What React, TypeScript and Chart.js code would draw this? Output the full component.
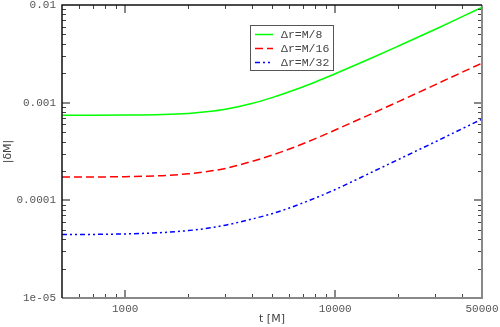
import React, { useEffect, useRef } from "react";
import { Chart, registerables } from "chart.js";

Chart.register(...registerables);

const times = [500, 700, 1000, 1500, 2000, 2500, 3000, 4000, 5000, 6000, 8000, 10000, 15000, 20000, 30000, 40000, 50000];
const dM8 = [7.43e-4, 7.43e-4, 7.46e-4, 7.56e-4, 7.76e-4, 8.1e-4, 8.55e-4, 9.8e-4, 1.126e-3, 1.284e-3, 1.62e-3, 1.975e-3, 2.88e-3, 3.8e-3, 5.65e-3, 7.55e-3, 9.47e-3];
const dM16 = [1.736e-4, 1.736e-4, 1.748e-4, 1.79e-4, 1.87e-4, 1.98e-4, 2.12e-4, 2.5e-4, 2.9e-4, 3.33e-4, 4.26e-4, 5.25e-4, 7.75e-4, 1.025e-3, 1.53e-3, 2.04e-3, 2.54e-3];
const dM32 = [4.457e-5, 4.477e-5, 4.53e-5, 4.68e-5, 4.9e-5, 5.2e-5, 5.57e-5, 6.42e-5, 7.3e-5, 8.3e-5, 1.052e-4, 1.29e-4, 1.95e-4, 2.62e-4, 3.98e-4, 5.38e-4, 6.78e-4];

const seriesLabels = ["\u0394r=M/8", "\u0394r=M/16", "\u0394r=M/32"];
const seriesColors = ["#00ff00", "#ff0000", "#0000ff"];
const seriesDashes: number[][] = [[], [8, 4], [5, 3, 2, 3, 2, 3]];

const xTickValues = [1000, 10000, 50000];
const xTickLabels = ["1000", "10000", "50000"];
const yTickValues = [1e-5, 1e-4, 1e-3, 1e-2];
const yTickLabels = ["1e-05", "0.0001", "0.001", "0.01"];
const xMajorMarks = [1000, 10000];
const xMinorMarks = [600, 700, 800, 900, 2000, 3000, 4000, 5000, 6000, 7000, 8000, 9000, 20000, 30000, 40000];
const yMajorMarks = [1e-4, 1e-3];
const yMinorDecades = [1e-5, 1e-4, 1e-3];
const yMinorMults = [2, 3, 4, 5, 6, 7, 8, 9];

const xMin = 500;
const xMax = 50000;
const yMin = 1e-5;
const yMax = 1e-2;
const xTitle = "t [M]";
const yTitle = "|\u03b4M|";

const framePlugin = {
  id: "framePlugin",
  afterDraw(chart: any) {
    const { ctx, chartArea: a, scales } = chart;
    const xs = scales.x;
    const ys = scales.y;
    ctx.save();

    // minor ticks
    ctx.strokeStyle = "#444";
    ctx.lineWidth = 1;
    ctx.beginPath();
    xMinorMarks.forEach((v) => {
      const px = Math.round(xs.getPixelForValue(v)) + 0.5;
      ctx.moveTo(px, a.bottom);
      ctx.lineTo(px, a.bottom - 4);
      ctx.moveTo(px, a.top);
      ctx.lineTo(px, a.top + 4);
    });
    yMinorDecades.forEach((d) => {
      yMinorMults.forEach((m) => {
        const py = Math.round(ys.getPixelForValue(d * m)) + 0.5;
        ctx.moveTo(a.left, py);
        ctx.lineTo(a.left + 4, py);
        ctx.moveTo(a.right, py);
        ctx.lineTo(a.right - 4, py);
      });
    });
    ctx.stroke();

    // major ticks
    ctx.strokeStyle = "#888";
    ctx.lineWidth = 2;
    ctx.beginPath();
    xMajorMarks.forEach((v) => {
      const px = Math.round(xs.getPixelForValue(v));
      ctx.moveTo(px, a.bottom);
      ctx.lineTo(px, a.bottom - 8);
      ctx.moveTo(px, a.top);
      ctx.lineTo(px, a.top + 8);
    });
    yMajorMarks.forEach((v) => {
      const py = Math.round(ys.getPixelForValue(v));
      ctx.moveTo(a.left, py);
      ctx.lineTo(a.left + 8, py);
      ctx.moveTo(a.right, py);
      ctx.lineTo(a.right - 8, py);
    });
    ctx.stroke();

    // frame
    ctx.lineWidth = 2;
    ctx.strokeStyle = "#888";
    ctx.beginPath();
    ctx.moveTo(a.left, a.bottom);
    ctx.lineTo(a.right, a.bottom);
    ctx.lineTo(a.right, a.top);
    ctx.stroke();
    ctx.lineWidth = 1.5;
    ctx.strokeStyle = "#111";
    ctx.beginPath();
    ctx.moveTo(a.left, a.bottom);
    ctx.lineTo(a.left, a.top);
    ctx.lineTo(a.right, a.top);
    ctx.stroke();

    // axis titles
    ctx.fillStyle = "#444";
    ctx.font = "11px 'DejaVu Sans', sans-serif";
    ctx.textAlign = "center";
    ctx.textBaseline = "middle";
    ctx.fillText(xTitle, (a.left + a.right) / 2, 319);
    ctx.save();
    ctx.translate(8, (a.top + a.bottom) / 2);
    ctx.rotate(-Math.PI / 2);
    ctx.fillText(yTitle, 0, 0);
    ctx.restore();

    // legend
    const bx = 250, by = 25, bw = 83, bh = 45;
    ctx.fillStyle = "#ffffff";
    ctx.fillRect(bx, by, bw, bh);
    ctx.strokeStyle = "#555";
    ctx.lineWidth = 1;
    ctx.strokeRect(bx + 0.5, by + 0.5, bw, bh);
    chart.data.datasets.forEach((ds: any, i: number) => {
      const ry = by + 9.5 + i * 14;
      ctx.strokeStyle = ds.borderColor;
      ctx.lineWidth = ds.borderWidth;
      ctx.setLineDash(ds.borderDash || []);
      ctx.beginPath();
      ctx.moveTo(bx + 5, ry);
      ctx.lineTo(bx + 23, ry);
      ctx.stroke();
      ctx.setLineDash([]);
      ctx.fillStyle = "#444";
      ctx.font = "11.5px 'Liberation Mono', monospace";
      ctx.textAlign = "left";
      ctx.textBaseline = "middle";
      ctx.fillText(ds.label, bx + 31, ry);
    });

    ctx.restore();
  },
};

const zeroPad = (scale: any) => {
  scale.paddingTop = 0;
  scale.paddingBottom = 0;
  scale.paddingLeft = 0;
  scale.paddingRight = 0;
};

export default function App() {
  const canvasRef = useRef<HTMLCanvasElement | null>(null);

  useEffect(() => {
    document.body.style.margin = "0";
    const canvas = canvasRef.current;
    if (!canvas) return;
    const seriesData = [dM8, dM16, dM32];
    const chart = new Chart(canvas, {
      type: "line",
      data: {
        datasets: seriesData.map((vals, i) => ({
          label: seriesLabels[i],
          data: times.map((t, k) => ({ x: t, y: vals[k] })),
          borderColor: seriesColors[i],
          backgroundColor: seriesColors[i],
          borderWidth: 1.5,
          borderDash: seriesDashes[i],
          pointRadius: 0,
          fill: false,
          cubicInterpolationMode: "monotone" as const,
        })),
      },
      options: {
        animation: false,
        responsive: false,
        maintainAspectRatio: false,
        layout: { padding: { top: 5, right: 18, left: 0, bottom: 0 } },
        plugins: {
          legend: { display: false },
          tooltip: { enabled: false },
        },
        scales: {
          x: {
            type: "logarithmic",
            min: xMin,
            max: xMax,
            bounds: "data",
            grid: { display: false, drawTicks: false },
            border: { display: false },
            afterBuildTicks: (scale: any) => {
              scale.ticks = xTickValues.map((v) => ({ value: v }));
            },
            afterFit: (scale: any) => {
              scale.height = 29;
              zeroPad(scale);
            },
            ticks: {
              autoSkip: false,
              maxRotation: 0,
              padding: 4,
              color: "#555",
              font: { family: "'Liberation Mono', monospace", size: 11 },
              callback: (value: any) => {
                const idx = xTickValues.indexOf(Number(value));
                return idx >= 0 ? xTickLabels[idx] : "";
              },
            },
          },
          y: {
            type: "logarithmic",
            min: yMin,
            max: yMax,
            bounds: "data",
            grid: { display: false, drawTicks: false },
            border: { display: false },
            afterBuildTicks: (scale: any) => {
              scale.ticks = yTickValues.map((v) => ({ value: v }));
            },
            afterFit: (scale: any) => {
              scale.width = 62;
              zeroPad(scale);
            },
            ticks: {
              autoSkip: false,
              padding: 6,
              color: "#555",
              font: { family: "'Liberation Mono', monospace", size: 11 },
              callback: (value: any) => {
                const v = Number(value);
                const idx = yTickValues.findIndex((t) => Math.abs(t - v) / t < 1e-6);
                return idx >= 0 ? yTickLabels[idx] : "";
              },
            },
          },
        },
      },
      plugins: [framePlugin],
    } as any);
    return () => chart.destroy();
  }, []);

  return (
    <div style={{ width: 500, height: 327 }}>
      <canvas ref={canvasRef} width={500} height={327} style={{ display: "block" }} />
    </div>
  );
}
